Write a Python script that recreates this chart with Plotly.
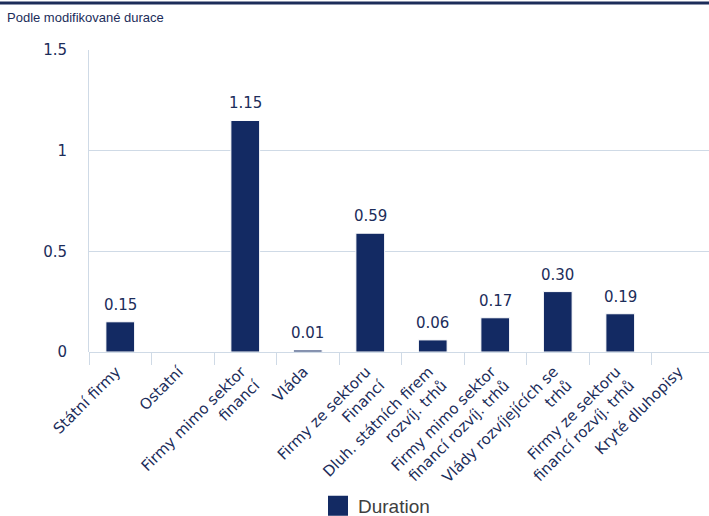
import plotly.graph_objects as go

categories = [
    "Státní firmy",
    "Ostatní",
    "Firmy mimo sektor<br>financí",
    "Vláda",
    "Firmy ze sektoru<br>Financí",
    "Dluh. státních firem<br>rozvíj. trhů",
    "Firmy mimo sektor<br>financí rozvíj. trhů",
    "Vlády rozvíjejících se<br>trhů",
    "Firmy ze sektoru<br>financí rozvíj. trhů",
    "Kryté dluhopisy",
]
duration = [0.15, None, 1.15, 0.01, 0.59, 0.06, 0.17, 0.30, 0.19, None]
y_ticks = [0, 0.5, 1, 1.5]
y_tick_labels = ["0", "0.5", "1", "1.5"]

NAVY = "#132a63"
GRID = "#cfdae6"
TXT = "#1c2d5a"

fig = go.Figure()
fig.add_trace(go.Bar(
    x=categories,
    y=duration,
    name="Duration",
    showlegend=False,
    marker=dict(color=NAVY, line=dict(color="white", width=1)),
    width=0.46,
    cliponaxis=False,
))
# legend entry for the series
fig.add_trace(go.Scatter(
    x=[None], y=[None], mode="markers", name="Duration",
    marker=dict(symbol="square", size=16, color=NAVY,
                line=dict(color=NAVY, width=4)),
    showlegend=True,
))

# value labels above bars
value_annotations = [
    dict(x=c, y=v, xref="x", yref="y", text=f"{v:.2f}",
         showarrow=False, yanchor="bottom", yshift=6,
         font=dict(family="DejaVu Sans", size=15, color=TXT))
    for c, v in zip(categories, duration) if v is not None
]

fig.update_layout(
    width=709,
    height=516,
    margin=dict(l=89, r=0, t=50, b=164),
    plot_bgcolor="white",
    paper_bgcolor="white",
    font=dict(family="DejaVu Sans", size=14, color=TXT),
    showlegend=True,
    legend=dict(
        orientation="h",
        xref="container", yref="container",
        x=318 / 709, xanchor="left",
        y=1 - 506 / 516, yanchor="middle",
        font=dict(family="Liberation Sans", size=19, color="#404040"),
        itemwidth=30,
    ),
    xaxis=dict(
        type="category",
        range=[-0.5, 9.42],
        tickangle=-45,
        ticks="outside",
        tickson="boundaries",
        ticklen=12,
        tickcolor=GRID,
        showgrid=False,
        showline=False,
        automargin=False,
        ticklabelstandoff=7,
        ticklabelshift=-4,
        tickfont=dict(family="DejaVu Sans", size=15, color=TXT),
    ),
    yaxis=dict(
        range=[0, 1.5],
        tickvals=y_ticks,
        ticktext=y_tick_labels,
        showgrid=True,
        gridcolor=GRID,
        gridwidth=1,
        zeroline=True,
        zerolinecolor=GRID,
        zerolinewidth=1,
        showline=True,
        linecolor=GRID,
        linewidth=1,
        ticks="",
        automargin=False,
        ticklabelstandoff=18,
        tickfont=dict(family="DejaVu Sans", size=15, color=TXT),
    ),
    shapes=[dict(
        type="line", xref="paper", yref="paper",
        x0=-89 / 620, x1=1.0, y0=1 + 47 / 302, y1=1 + 47 / 302,
        line=dict(color="#1c2d5a", width=3),
    )],
    annotations=[dict(
        text="Podle modifikované durace",
        xref="paper", yref="paper",
        x=-84 / 620, y=1 + 32 / 302,
        xanchor="left", yanchor="middle",
        showarrow=False,
        font=dict(family="Liberation Sans", size=13, color=TXT),
    )] + value_annotations,
)

fig.write_html(
    "out.html",
    config={"displayModeBar": False},
    post_script="document.body.style.margin='0';document.body.style.overflow='hidden';",
)
